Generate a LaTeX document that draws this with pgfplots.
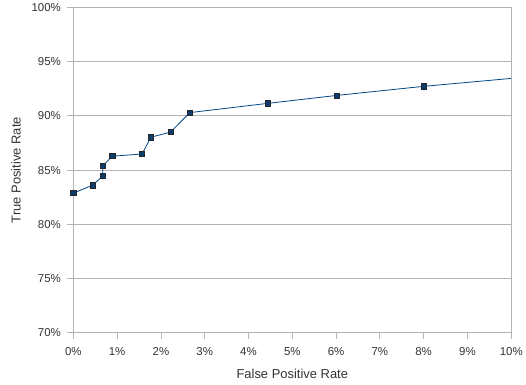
\documentclass[border=0pt]{standalone}
\usepackage{pgfplots}
\pgfplotsset{compat=1.18}
\usepackage{fontspec}
\setmainfont{Liberation Sans}
\definecolor{gridgray}{HTML}{B3B3B3}
\definecolor{lineblue}{HTML}{004586}
\definecolor{markblue}{HTML}{0A3C6E}
\begin{document}
\begin{tikzpicture}
\begin{axis}[
  scale only axis,
  width=440pt, height=327pt,
  xmin=0, xmax=10, ymin=70, ymax=100,
  xtick={0,1,...,10}, ytick={70,75,...,100},
  xticklabel={\pgfmathprintnumber{\tick}\%},
  yticklabel={\pgfmathprintnumber{\tick}\%},
  /pgf/number format/assume math mode=true,
  ticklabel style={font=\fontsize{11.5}{13}\selectfont, text=black!80},
  xticklabel style={yshift=-5pt},
  yticklabel style={xshift=-3pt},
  ymajorgrids,
  extra x ticks={10}, extra x tick labels={},
  extra x tick style={grid=major, major tick length=0pt},
  grid style={gridgray, line width=0.8pt},
  axis line style={gridgray, line width=0.8pt},
  axis x line*=bottom, axis y line*=left,
  tick style={gridgray, line width=0.8pt},
  tick align=outside, major tick length=6pt,
  xlabel={False Positive Rate}, ylabel={True Positive Rate},
  label style={font=\fontsize{13}{15}\selectfont, text=black!80},
  xlabel style={yshift=-1pt},
  ylabel style={yshift=4pt},
]
\addplot[color=lineblue, line width=0.8pt, mark=square*, mark size=2.6pt,
  mark options={fill=markblue, draw=black!85, line width=0.6pt},
  mark indices={1,2,3,4,5,6,7,8,9,10,11,12}]
coordinates {
(0,82.88) (0.44,83.6) (0.67,84.45) (0.67,85.37) (0.89,86.28) (1.57,86.48)
(1.77,88.03) (2.22,88.5) (2.66,90.3) (4.44,91.15) (6.01,91.88) (8.0,92.72)
(10,93.45)
};
\end{axis}
\path ([shift={(-8pt,-3pt)}]current bounding box.south west);
\end{tikzpicture}
\end{document}
